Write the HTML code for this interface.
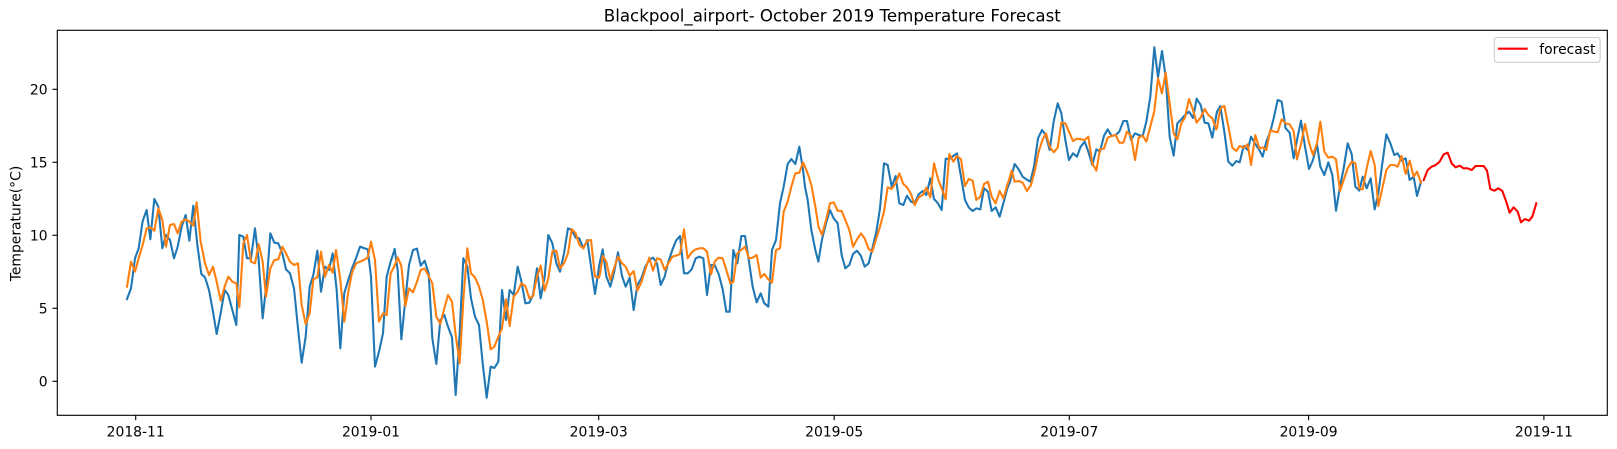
<!DOCTYPE html>
<html>
<head>
<meta charset="utf-8">
<style>
  html, body { margin: 0; padding: 0; background: #ffffff; }
  svg { display: block; }
  text { font-family: "DejaVu Sans", "Liberation Sans", sans-serif; fill: #000; }
</style>
</head>
<body>
<svg width="1617" height="449" viewBox="0 0 1617 449" xmlns="http://www.w3.org/2000/svg">
  <rect x="0" y="0" width="1617" height="449" fill="#ffffff"/>

  <!-- Title -->
  <text x="832.3" y="21.7" font-size="16.67" text-anchor="middle">Blackpool_airport- October 2019 Temperature Forecast</text>

  <!-- Series (blue) -->
  <g fill="none" stroke="#1f77b4" stroke-width="6.25" stroke-linejoin="round" stroke-linecap="square">
    <polyline transform="translate(0,0) scale(0.333333)" points="381,897 393,865 405,775 416,745 428,663 440,630 451,718 463,597 475,620 487,745 498,705 510,720 522,775 533,740 545,680 557,645 568,722 580,617 592,735 604,822 615,832 627,870 639,935 650,1002 662,940 674,870 685,885 697,930 709,975 718,705 730,710 741,775 753,775 765,685 776,780 788,955 800,845 811,700 823,728 835,730 847,760 858,808 870,820 882,865 894,985 905,1088 917,1010 929,860 940,825 952,752 963,875 975,800 987,810 998,760 1010,870 1021,1045 1033,878 1045,840 1056,805 1068,775 1080,740 1091,744 1103,748 1113,830 1125,1100 1137,1055 1149,1000 1160,830 1172,785 1184,748"/>
    <polyline transform="translate(395,0) scale(0.333333)" points="-1,748 8,810 19,1018 31,900 42,795 54,750 66,746 77,797 89,782 101,820 112,1015 124,1092 136,960 148,945 159,980 171,1012 182,1185 194,1000 205,775 217,800 228,895 240,950 252,975 263,1090 275,1193 287,1100 298,1104 310,1085 321,870 333,960 344,870 356,885 368,800 379,843 391,910 403,908 414,885 426,805 437,895 449,830 460,705 472,730 484,790 495,815 507,760 519,685 530,690 542,713 553,715 565,745 577,720 588,800 600,882 612,800 615,785"/>
    <polyline transform="translate(600,0) scale(0.333333)" points="0,785 8,748 19,830 31,860 42,818 54,757 66,828 77,860 89,833 101,930 112,855 124,835 136,800 148,780 159,773 171,790 182,855 194,830 205,785 217,750 228,722 240,708 252,820 263,820 275,808 287,775 298,770 310,775 321,885 333,795 344,795 356,822 368,868 379,935 389,935 400,750 412,790 424,708 435,708 447,785 458,860 470,907 482,880 493,910 505,920 516,750 528,720 540,610 551,560 563,492 574,477 586,492 598,440 609,510 615,560"/>
    <polyline transform="translate(805,0) scale(0.333333)" points="0,560 8,600 19,690 31,750 40,785 51,718 63,670 75,630 86,655 98,670 110,765 121,805 133,795 144,762 156,752 168,768 179,800 191,790 202,745 214,695 225,625 237,490 248,495 260,560 272,528 283,610 295,615 306,587 318,605 329,610 341,583 353,573 364,585 376,535 387,597 399,610 410,630 422,476 433,477 445,468 456,460 468,530 480,600 491,622 503,633 514,625 526,628 537,565 549,575 560,633 572,622 584,650 595,610 607,565 615,545"/>
    <polyline transform="translate(1010,0) scale(0.333333)" points="0,545 14,492 26,508 38,530 49,538 61,545 72,500 84,415 96,390 107,405 119,450 131,365 143,310 154,340 166,420 177,480 189,460 201,470 212,440 224,425 235,455 247,495 259,448 270,455 282,407 293,388 305,408 317,405 328,395 340,363 351,363 363,420 375,400 386,405 398,408 409,365 421,290 433,142 444,232 456,153 467,230 479,410 491,467 502,370 514,358 525,345 537,335 549,354 560,296 572,315 584,368 595,370 607,413 619,345 621,335"/>
    <polyline transform="translate(1217,0) scale(0.333333)" points="0,335 10,318 22,395 34,485 46,497 58,483 68,487 80,438 92,450 102,410 115,432 127,450 137,470 148,425 160,395 170,355 182,300 194,305 206,385 218,398 230,475 240,420 252,362 264,440 276,507 288,480 300,433 310,500 322,525 334,487 346,525 357,632 369,560 380,505 392,430 404,462 415,560 427,572 437,530 449,565 461,535 473,628 484,580 496,490 508,403 520,430 532,465 542,460 554,482 566,475 578,540 590,530 600,588 612,545"/>
  </g>

  <!-- Series (orange) -->
  <g fill="none" stroke="#ff7f0e" stroke-width="6.25" stroke-linejoin="round" stroke-linecap="square">
    <polyline transform="translate(0,0) scale(0.333333)" points="381,860 393,785 405,815 416,775 428,735 440,685 451,682 463,692 475,625 487,660 498,740 510,675 522,672 533,700 545,665 557,658 568,665 580,677 590,607 602,725 615,790 627,825 639,800 650,845 662,902 674,860 685,830 697,845 709,850 718,922 730,730 741,705 753,785 765,790 776,732 788,785 798,890 811,805 823,780 835,778 847,740 858,760 870,785 882,795 894,790 905,915 917,972 929,940 940,838 952,832 963,755 975,830 987,795 998,818 1008,750 1021,840 1033,965 1045,875 1056,818 1068,790 1080,785 1091,780 1103,773 1113,725 1125,780 1137,965 1149,940 1160,945 1172,820 1184,797"/>
    <polyline transform="translate(395,0) scale(0.333333)" points="-1,797 8,772 19,797 31,918 42,865 54,877 66,845 77,810 89,806 101,828 112,850 124,950 136,972 148,925 159,885 171,905 182,1005 194,1090 205,900 217,745 228,820 240,832 252,860 263,898 275,965 287,1048 298,1040 310,1010 321,985 333,898 344,978 356,890 368,875 379,850 391,858 403,895 414,888 426,830 437,797 449,872 460,835 472,755 484,752 495,805 507,790 519,760 530,687 542,700 553,735 565,745 577,722 588,720 600,830 612,833 615,822"/>
    <polyline transform="translate(600,0) scale(0.333333)" points="0,822 8,768 19,785 31,840 42,805 54,770 66,790 77,800 89,827 101,813 112,872 124,847 136,808 148,773 159,812 171,775 182,778 194,810 205,790 217,770 228,767 240,762 252,688 263,775 275,757 287,748 298,745 310,745 321,755 333,823 344,785 356,773 368,775 379,810 391,850 400,845 412,760 424,750 435,740 447,775 458,773 470,765 482,833 493,822 505,838 516,848 528,750 540,745 551,635 563,605 574,560 586,520 598,518 609,487 615,500"/>
    <polyline transform="translate(805,0) scale(0.333333)" points="0,500 8,520 19,555 31,620 40,678 51,705 63,660 75,610 86,607 98,632 110,633 121,660 133,690 144,740 156,718 168,700 179,715 191,747 202,755 214,715 225,680 237,635 248,562 260,567 272,550 283,520 295,552 306,562 318,582 329,615 341,592 353,585 364,563 376,592 387,490 399,537 410,565 422,598 433,462 445,485 456,468 468,478 480,558 491,537 503,542 514,600 526,590 537,552 549,545 560,590 572,610 584,573 595,595 607,555 615,530"/>
    <polyline transform="translate(1010,0) scale(0.333333)" points="0,530 5,512 14,545 26,543 38,548 51,573 63,555 75,510 86,455 98,418 108,400 119,440 131,457 143,443 154,368 166,370 177,395 189,423 201,416 212,418 224,420 235,410 247,490 259,512 270,447 282,446 293,413 305,408 317,405 328,428 340,428 351,395 363,408 375,480 386,413 398,407 409,425 421,380 433,333 444,235 456,280 467,218 479,310 491,400 502,418 514,370 525,353 537,297 549,330 560,368 572,352 584,327 595,345 607,355 619,388 621,383"/>
    <polyline transform="translate(1217,0) scale(0.333333)" points="0,382 10,325 22,318 34,380 46,443 58,453 68,438 80,443 92,433 102,495 115,405 127,445 137,442 148,450 160,390 172,395 182,397 194,358 206,370 218,373 230,393 240,478 252,432 264,372 276,428 288,465 300,430 310,365 322,455 334,473 346,470 357,478 369,573 380,540 392,505 404,485 415,490 427,565 437,568 449,505 461,453 473,495 484,618 496,565 508,510 520,495 532,495 542,500 554,468 566,522 578,482 590,530 600,515 612,548"/>
  </g>

  <!-- Forecast (red) -->
  <polyline fill="none" stroke="#ff0000" stroke-width="6.25" stroke-linejoin="round" stroke-linecap="square" transform="translate(1217,0) scale(0.333333)" points="620,540 632,510 644,500 656,495 668,485 680,463 692,458 704,490 716,502 728,497 740,505 752,505 764,510 776,498 788,498 800,498 810,512 820,567 832,572 844,565 856,573 866,600 878,638 890,622 902,635 912,667 924,657 936,662 946,650 958,610"/>

  <!-- Axes frame -->
  <rect x="57.3" y="30.3" width="1550" height="385" fill="none" stroke="#000" stroke-width="1.11"/>

  <!-- Y ticks -->
  <g stroke="#000" stroke-width="1.11">
    <line x1="52.4" y1="381.3" x2="57.3" y2="381.3"/>
    <line x1="52.4" y1="308.3" x2="57.3" y2="308.3"/>
    <line x1="52.4" y1="235.3" x2="57.3" y2="235.3"/>
    <line x1="52.4" y1="162.3" x2="57.3" y2="162.3"/>
    <line x1="52.4" y1="89.3" x2="57.3" y2="89.3"/>
  </g>
  <g font-size="13.9" text-anchor="end">
    <text x="47.6" y="386.3">0</text>
    <text x="47.6" y="313.3">5</text>
    <text x="47.6" y="240.3">10</text>
    <text x="47.6" y="167.3">15</text>
    <text x="47.6" y="94.3">20</text>
  </g>

  <!-- X ticks -->
  <g stroke="#000" stroke-width="1.11">
    <line x1="135.7" y1="415.3" x2="135.7" y2="420.2"/>
    <line x1="371.0" y1="415.3" x2="371.0" y2="420.2"/>
    <line x1="598.7" y1="415.3" x2="598.7" y2="420.2"/>
    <line x1="834.2" y1="415.3" x2="834.2" y2="420.2"/>
    <line x1="1069.3" y1="415.3" x2="1069.3" y2="420.2"/>
    <line x1="1308.6" y1="415.3" x2="1308.6" y2="420.2"/>
    <line x1="1543.9" y1="415.3" x2="1543.9" y2="420.2"/>
  </g>
  <g font-size="13.9" text-anchor="middle">
    <text x="135.7" y="436.5">2018-11</text>
    <text x="371.0" y="436.5">2019-01</text>
    <text x="598.7" y="436.5">2019-03</text>
    <text x="834.2" y="436.5">2019-05</text>
    <text x="1069.3" y="436.5">2019-07</text>
    <text x="1308.6" y="436.5">2019-09</text>
    <text x="1543.9" y="436.5">2019-11</text>
  </g>

  <!-- Y label -->
  <text transform="translate(20.3,223.5) rotate(-90)" font-size="13.9" text-anchor="middle">Temperature(°C)</text>

  <!-- Legend -->
  <rect x="1494.3" y="37.5" width="105.8" height="24.8" rx="2.8" ry="2.8" fill="#ffffff" fill-opacity="0.8" stroke="#cccccc" stroke-width="1.11"/>
  <line x1="1497.9" y1="48.7" x2="1527.7" y2="48.7" stroke="#ff0000" stroke-width="2.08"/>
  <text x="1539.3" y="54" font-size="13.9">forecast</text>
</svg>
</body>
</html>
